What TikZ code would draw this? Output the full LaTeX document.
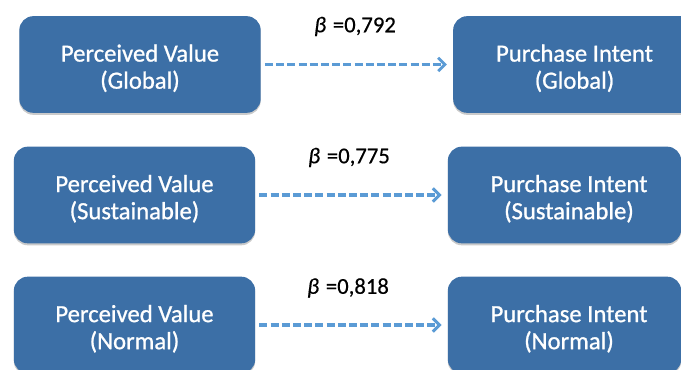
\documentclass[tikz,border=0pt]{standalone}
\usepackage{fontspec}
\setmainfont{Carlito}
\newfontfamily\boxfont{Carlito}[BoldFont=Carlito, BoldFeatures={FakeBold=0.9}]
\newfontfamily\coeffont{Carlito}[BoldFont=Carlito, BoldFeatures={FakeBold=0.5}, ItalicFont=Carlito Italic, BoldItalicFont=Carlito Italic, BoldItalicFeatures={FakeBold=0.5}]
\usetikzlibrary{arrows.meta,shadows}
\definecolor{boxblue}{HTML}{3C6FA6}
\definecolor{arrblue}{HTML}{5B9BD5}
\newcommand{\topstrut}{\rule{0pt}{18.5pt}}
\tikzset{
  pbox/.style={draw=none, fill=boxblue, rounded corners=10.5pt, text=white,
    align=center, font=\boxfont\bfseries\fontsize{18.5}{20.3}\selectfont,
    minimum height=72.5pt, inner sep=0pt,
    drop shadow={opacity=0.35, shadow xshift=0pt, shadow yshift=-1.5pt, fill=black!60}},
  lbox/.style={pbox, minimum width=181pt},
  rbox/.style={pbox, minimum width=175pt},
  rboxw/.style={pbox, minimum width=182pt},
  coef/.style={font=\coeffont\bfseries\fontsize{17}{20}\selectfont, inner sep=0pt},
  darr/.style={draw=arrblue, line width=2.3pt, dash pattern=on 6pt off 2.4pt,
    -{Straight Barb[length=5pt, width=10pt, line width=2.2pt]}}
}
\begin{document}
\begin{tikzpicture}[x=0.75pt, y=-0.75pt]
\useasboundingbox (0,0) rectangle (681,370);
\clip (0,0) rectangle (681,370);
% row 1
\node[lbox] (l1) at (140,64.5) {\topstrut Perceived Value\\(Global)};
\node[rboxw] (r1) at (574.5,64.5) {\topstrut Purchase Intent\\(Global)};
\node[coef] (c1) at (355,26.5) {\textit{β}\hspace{0.3em}=0,792};
\draw[darr, shorten <=3pt, shorten >=4.5pt] (l1.east) -- (r1.west);
% row 2
\node[lbox] (l2) at (134.5,195) {\topstrut Perceived Value\\(Sustainable)};
\node[rbox] (r2) at (564.5,195) {\topstrut\hspace*{6.75pt}Purchase Intent\\\hspace*{6.75pt}(Sustainable)};
\node[coef] (c2) at (349,157.5) {\textit{β}\hspace{0.3em}=0,775};
\draw[darr, shorten <=3pt, shorten >=4.5pt] (l2.east) -- (r2.west);
% row 3
\node[lbox] (l3) at (134.5,325) {\topstrut Perceived Value\\(Normal)};
\node[rbox] (r3) at (564.5,325) {\topstrut\hspace*{6.75pt}Purchase Intent\\\hspace*{6.75pt}(Normal)};
\node[coef] (c3) at (348,288) {\textit{β}\hspace{0.3em}=0,818};
\draw[darr, shorten <=3pt, shorten >=4.5pt] (l3.east) -- (r3.west);
\end{tikzpicture}
\end{document}
